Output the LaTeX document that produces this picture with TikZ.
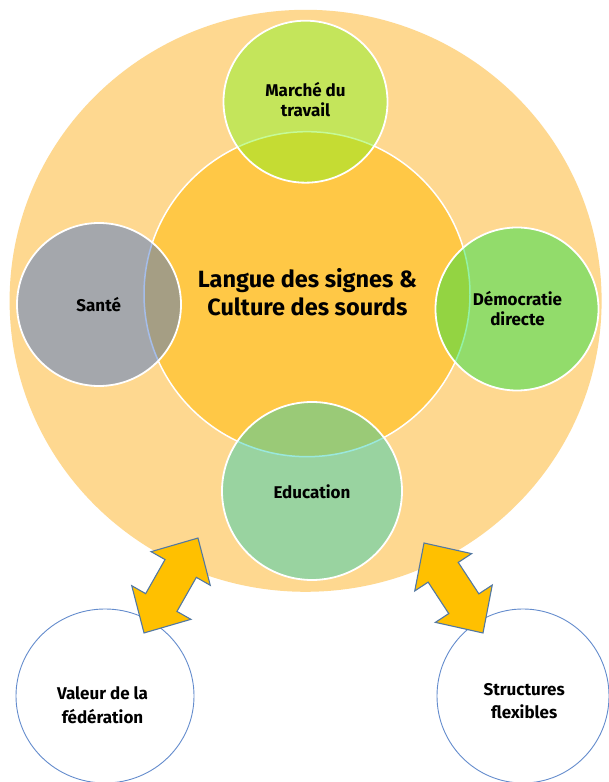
\documentclass[tikz,border=0pt]{standalone}
\usepackage{fontspec}
\setmainfont{Fira Sans}
\usetikzlibrary{shapes.geometric}
\definecolor{outerc}{RGB}{254,216,144}
\definecolor{innerc}{RGB}{255,200,70}
\definecolor{marchec}{RGB}{127,245,28}
\definecolor{santec}{RGB}{56,109,208}
\definecolor{democ}{RGB}{16,227,62}
\definecolor{educc}{RGB}{32,205,180}
\definecolor{arrowc}{RGB}{255,192,0}
\definecolor{arrowedge}{RGB}{82,120,162}
\definecolor{ringc}{RGB}{100,140,205}
\begin{document}
\begin{tikzpicture}[x=1pt,y=1pt,
  blob/.style={ellipse, inner sep=0pt, outer sep=0pt},
  sat/.style={blob, draw=white, line width=1.8pt, fill opacity=0.45, draw opacity=1},
  ring/.style={blob, draw=ringc, line width=0.9pt, fill=white},
  barrow/.style={fill=arrowc, draw=arrowedge, line width=1.1pt, line join=miter},
  lbl/.style={anchor=base, inner sep=0pt, font=\bfseries\fontsize{17}{20.5}\selectfont},
  lblb/.style={anchor=base, inner sep=0pt, font=\bfseries\fontsize{17}{24}\selectfont},
  title/.style={anchor=base, inner sep=0pt, font=\bfseries\fontsize{23.5}{28.7}\selectfont}
]
\useasboundingbox (0,0) rectangle (609,782);
\fill[white] (0,0) rectangle (609,782);

% circles
\node[blob, fill=outerc, minimum width=592, minimum height=582] (outer) at (305.6,481.2) {};
\node[blob, fill=innerc, draw=white, line width=1.5pt, minimum width=326, minimum height=325] (inner) at (307,487.8) {};
\node[sat, fill=marchec, minimum width=164, minimum height=162] (marche) at (305.5,680.3) {};
\node[sat, fill=santec, minimum width=164, minimum height=163] (sante) at (99,477.5) {};
\node[sat, fill=democ, minimum width=163, minimum height=163] (demo) at (517,473) {};
\node[sat, fill=educc, minimum width=180, minimum height=178] (educ) at (312,291) {};
\node[ring, minimum width=178, minimum height=174] (valeur) at (105,86) {};
\node[ring, minimum width=172, minimum height=174] (struct) at (523,86) {};

% double block arrows
\begin{scope}[shift={(171,196.5)}, rotate=60.39]
  \draw[barrow] (-54.6,0) -- (-19.6,34) -- (-19.6,18) -- (19.6,18) -- (19.6,34) -- (54.6,0)
    -- (19.6,-34) -- (19.6,-18) -- (-19.6,-18) -- (-19.6,-34) -- cycle;
\end{scope}
\begin{scope}[shift={(453.5,194)}, rotate=123.25]
  \draw[barrow] (-53.8,0) -- (-18.8,34) -- (-18.8,18) -- (18.8,18) -- (18.8,34) -- (53.8,0)
    -- (18.8,-34) -- (18.8,-18) -- (-18.8,-18) -- (-18.8,-34) -- cycle;
\end{scope}

% labels
\node[title] (tcenter) at (307.4,466) {\begin{tabular}[b]{@{}c@{}}Langue des signes \&\\Culture des sourds\end{tabular}};
\node[lbl] (tmarche) at (305.5,665.3) {\begin{tabular}[b]{@{}c@{}}Marché du\\travail\end{tabular}};
\node[lbl] (tsante) at (98.7,470.3) {Santé};
\node[lbl] (tdemo) at (517.5,456.3) {\begin{tabular}[b]{@{}c@{}}Démocratie\\directe\end{tabular}};
\node[lbl] (teduc) at (312,283.7) {Education};
\node[lblb] (tvaleur) at (102.5,58) {\begin{tabular}[b]{@{}c@{}}Valeur de la\\fédération\end{tabular}};
\node[lblb] (tstruct) at (524.2,63) {\begin{tabular}[b]{@{}c@{}}Structures\\flexibles\end{tabular}};
\end{tikzpicture}
\end{document}
